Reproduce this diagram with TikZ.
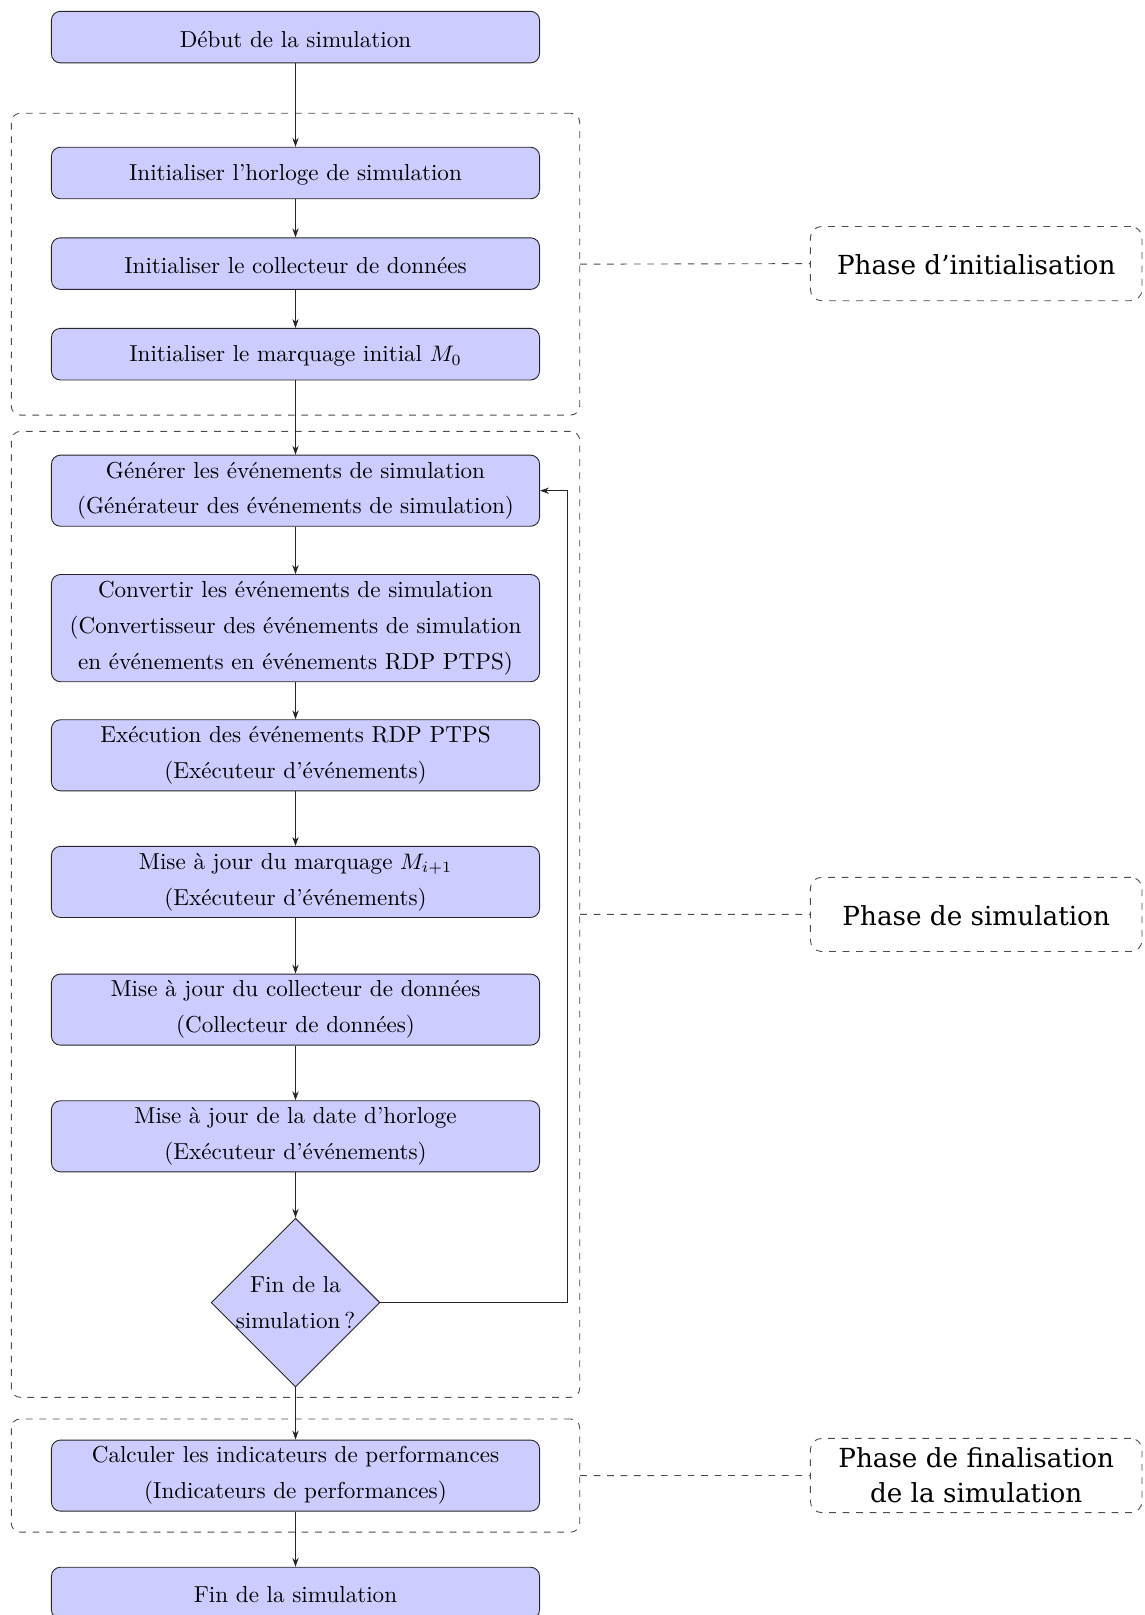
\documentclass[tikz,border=0pt]{standalone}
\usepackage{fontspec}
\newfontfamily\phasefont{DejaVu Serif}
\usetikzlibrary{shapes.geometric,arrows.meta}
\begin{document}
\begin{tikzpicture}[x=0.446pt,y=-0.446pt,
  box/.style={draw=black!85, fill=blue!20, rounded corners=4pt, minimum width=217.7pt,
    inner sep=0pt, align=center, font=\fontsize{10.3}{16}\selectfont,
    execute at begin node={\rule{0pt}{9pt}}},
  h1/.style={minimum height=23pt},
  h2/.style={minimum height=31.7pt},
  h3/.style={minimum height=47.8pt},
  diam/.style={draw=black!85, fill=blue!20, shape=diamond, aspect=1, inner sep=0pt,
    minimum width=75.3pt, minimum height=75.3pt},
  dtext/.style={inner sep=0pt, align=center, font=\fontsize{10.3}{16}\selectfont,
    execute at begin node={\rule{0pt}{8.2pt}}},
  group/.style={draw=black!70, dashed, rounded corners=4pt, minimum width=253.5pt, inner sep=0pt},
  phase/.style={draw=black!70, dashed, rounded corners=5pt, minimum width=147.9pt,
    minimum height=33.1pt, inner sep=0pt, align=center,
    font=\phasefont\fontsize{11.7}{15.6}\selectfont,
    execute at begin node={\rule{0pt}{10.3pt}}},
  arr/.style={-{Stealth[length=4pt,width=2.8pt]}, draw=black!85},
  link/.style={draw=black!70, dashed}
]
\useasboundingbox (0,0) rectangle (1145,1615);

% groups
\node[group, minimum height=134.6pt] (g1) at (295.5,264.15) {};
\node[group, minimum height=430.8pt] (g2) at (295.5,914.35) {};
\node[group, minimum height=50.5pt]  (g3) at (295.5,1475.55) {};

% phase labels
\node[phase] (p1) at (976.2,263.6) {Phase d’initialisation};
\node[phase] (p2) at (976.2,914.4) {Phase de simulation};
\node[phase] (p3) at (976.2,1475.5) {Phase de finalisation\\de la simulation};

\draw[link] (g1.east) -- (p1.west);
\draw[link] (g2.east) -- (p2.west);
\draw[link] (g3.east) -- (p3.west);

% boxes
\node[box,h1] (start) at (295.5,37.1) {Début de la simulation};
\node[box,h1] (hor) at (295.5,173.0) {Initialiser l’horloge de simulation};
\node[box,h1] (col) at (295.5,263.6) {Initialiser le collecteur de données};
\node[box,h1] (mar) at (295.5,354.2) {Initialiser le marquage initial $M_0$};
\node[box,h2] (gen) at (295.5,490.7) {Générer les événements de simulation\\(Générateur des événements de simulation)};
\node[box,h3] (conv) at (295.5,628.1) {Convertir les événements de simulation\\(Convertisseur des événements de simulation\\en événements en événements RDP PTPS)};
\node[box,h2] (exe) at (295.5,755.3) {Exécution des événements RDP PTPS\\(Exécuteur d’événements)};
\node[box,h2] (maj1) at (295.5,881.9) {Mise à jour du marquage $M_{i+1}$\\(Exécuteur d’événements)};
\node[box,h2] (maj2) at (295.5,1009.6) {Mise à jour du collecteur de données\\(Collecteur de données)};
\node[box,h2] (maj3) at (295.5,1136.3) {Mise à jour de la date d’horloge\\(Exécuteur d’événements)};
\node[diam] (dec) at (295.5,1302.6) {};
\node[dtext] (dectxt) at (dec.center) {Fin de la\\simulation\,?};
\node[box,h2] (calc) at (295.5,1475.6) {Calculer les indicateurs de performances\\(Indicateurs de performances)};
\node[box,h1] (fin) at (295.5,1593.0) {Fin de la simulation};

% arrows
\draw[arr] (start) -- (hor);
\draw[arr] (hor) -- (col);
\draw[arr] (col) -- (mar);
\draw[arr] (mar) -- (gen);
\draw[arr] (gen) -- (conv);
\draw[arr] (conv) -- (exe);
\draw[arr] (exe) -- (maj1);
\draw[arr] (maj1) -- (maj2);
\draw[arr] (maj2) -- (maj3);
\draw[arr] (maj3) -- (dec);
\draw[arr] (dec) -- (calc);
\draw[arr] (calc) -- (fin);

\coordinate (loopx) at (567.4,490.7);
\draw[arr] (dec.east) -| (loopx) -- (gen.east);
\end{tikzpicture}
\end{document}
